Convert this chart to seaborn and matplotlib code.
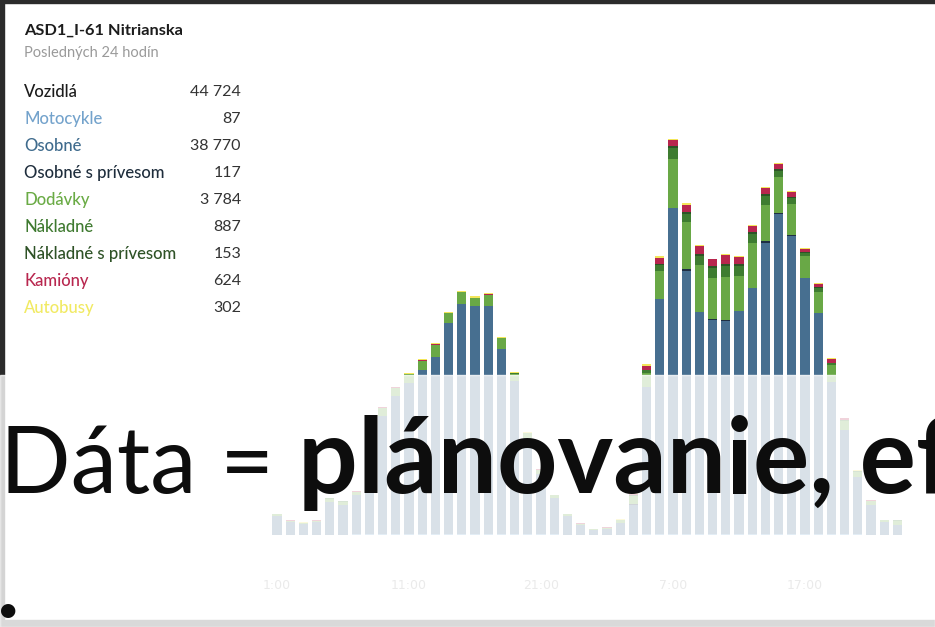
import numpy as np
import pandas as pd
import matplotlib
matplotlib.use("Agg")
import matplotlib.pyplot as plt
import seaborn as sns
from matplotlib.patches import Rectangle

# hourly counts (48 bars, two days)
hours = list(range(48))
tick_pos = [0, 10, 20, 30, 40]
tick_labels = ["1:00", "11:00", "21:00", "7:00", "17:00"]

motocykle = [0, 0, 0, 0, 0, 0, 1, 2, 3, 3, 4, 5, 5, 6, 6, 5, 5, 4, 3, 2, 1, 1, 0, 0,
             0, 0, 0, 0, 2, 3, 4, 4, 5, 5, 5, 6, 6, 6, 5, 5, 4, 3, 2, 1, 1, 0, 0, 0]
osobne = [190, 130, 110, 130, 330, 300, 390, 720, 1180, 1380,
          1515, 1645, 1772, 2112, 2297, 2285, 2285, 1855, 1528, 960,
          600, 360, 190, 100, 50, 60, 120, 300, 1470, 2355,
          3262, 2628, 2218, 2145, 2135, 2228, 2462, 2905, 3205, 2985,
          2562, 2212, 1525, 1045, 570, 300, 130, 95]
osobne_pr = [0, 0, 0, 0, 0, 0, 0, 1, 1, 1, 0, 0, 0, 0, 0, 0, 0, 0, 0, 1, 0, 0, 0, 0,
             0, 0, 0, 1, 1, 1, 1, 27, 1, 1, 1, 1, 1, 23, 1, 1, 1, 1, 1, 1, 1, 0, 0, 0]
dodavky = [15, 10, 8, 10, 30, 30, 35, 70, 80, 80,
           90, 90, 123, 100, 123, 77, 110, 103, 70, 50,
           45, 30, 15, 10, 5, 10, 25, 80, 140, 273,
           490, 463, 470, 410, 437, 350, 443, 357, 367, 317,
           223, 206, 163, 93, 55, 35, 15, 45]
nakladne = [0, 0, 0, 0, 2, 2, 3, 5, 5, 5, 0, 0, 0, 0, 0, 0, 0, 2, 15, 3, 2, 2, 1, 0,
            0, 0, 2, 8, 29, 65, 108, 85, 91, 105, 110, 105, 96, 94, 62, 60, 28, 43, 20, 8, 4, 2, 1, 1]
nakladne_pr = [0, 0, 0, 0, 0, 0, 1, 1, 1, 1, 0, 0, 0, 0, 0, 0, 0, 0, 2, 1, 0, 0, 0, 0,
               0, 0, 0, 2, 5, 12, 19, 15, 16, 18, 20, 19, 17, 16, 11, 10, 5, 7, 4, 2, 1, 0, 0, 0]
kamiony = [2, 2, 2, 2, 5, 5, 5, 5, 5, 5, 1, 1, 1, 1, 1, 1, 1, 1, 2, 3, 3, 3, 2, 2,
           1, 1, 3, 15, 43, 57, 57, 77, 83, 67, 86, 70, 60, 60, 50, 50, 34, 37, 43, 13, 8, 5, 2, 2]
autobusy = [1, 1, 1, 1, 3, 3, 3, 3, 3, 3, 7, 10, 10, 6, 10, 16, 17, 10, 3, 3, 2, 2, 1, 1,
            0, 0, 2, 10, 17, 17, 10, 17, 7, 7, 7, 7, 7, 13, 10, 7, 10, 7, 7, 3, 2, 1, 1, 1]

categories = ["Motocykle", "Osobné", "Osobné s prívesom", "Dodávky", "Nákladné",
              "Nákladné s prívesom", "Kamióny", "Autobusy"]
colors = ["#79a9d1", "#476f90", "#1f2f44", "#69a846", "#3e7c30", "#2d5426", "#b8264e", "#f3e65a"]

legend_labels = ["Vozidlá"] + categories
legend_values = ["44 724", "87", "38 770", "117", "3 784", "887", "153", "624", "302"]
legend_colors = ["#1c1c1c", "#74a3cc", "#3f6b8d", "#1e2d3c", "#6aab45", "#3f7a30", "#2e5226", "#b8274f", "#f1ea63"]

df = pd.DataFrame(dict(zip(categories, [motocykle, osobne, osobne_pr, dodavky, nakladne,
                                         nakladne_pr, kamiony, autobusy])), index=hours)
cum = df.cumsum(axis=1)

W, H = 935, 627
fig = plt.figure(figsize=(W / 100, H / 100), dpi=100)
fig.patch.set_facecolor("white")

ax = fig.add_axes([270.4 / W, 92.5 / H, 633.6 / W, 404.5 / H])
# stacked bars: draw cumulative totals from the top category down
for cat, col in reversed(list(zip(categories, colors))):
    sns.barplot(x=hours, y=cum[cat].values, color=col, saturation=1, width=0.7,
                linewidth=0, errorbar=None, ax=ax)
ax.set_xlim(-0.5, 47.5)
ax.set_ylim(0, 4045)
ax.set_xticks(tick_pos, tick_labels)
ax.set_yticks([])
ax.tick_params(axis="x", length=0, pad=32, labelsize=9, labelcolor="#999999")
ax.set_xlabel("")
ax.set_ylabel("")
for s in ax.spines.values():
    s.set_visible(False)
ax.set_facecolor("none")

# panel header and legend
fig.text(24 / W, 1 - 31 / H, "ASD1_I-61 Nitrianska", fontsize=11.8, family="Lato",
         weight="bold", color="#1c1c1c", va="center")
fig.text(24 / W, 1 - 53 / H, "Posledných 24 hodín", fontsize=10.5, family="Lato",
         color="#9a9a9a", va="center")
for k, (lab, val, col) in enumerate(zip(legend_labels, legend_values, legend_colors)):
    y = 1 - (92 + 27 * k) / H
    fig.text(24 / W, y, lab, fontsize=12, family="Lato", weight="medium", color=col, va="center")
    fig.text(241 / W, y, val, fontsize=11.5, family="Lato", color="#333333",
             va="center", ha="right")

# slide frame
fig.patches.append(Rectangle((0, 1 - 3 / H), 1, 3 / H, transform=fig.transFigure,
                             color="#2b2b2b", zorder=1))
fig.patches.append(Rectangle((0, 0), 4 / W, 1, transform=fig.transFigure,
                             color="#2b2b2b", zorder=1))
fig.patches.append(Rectangle((0, 0), 1, 7 / H, transform=fig.transFigure,
                             color="#444444", zorder=1))

# white veil over the lower part of the screenshot
fig.patches.append(Rectangle((0, 0), 1, 252 / H, transform=fig.transFigure,
                             color="white", alpha=0.8, zorder=10))

base = (H - 493) / H
fig.text(0.0, base, "Dáta =", fontsize=67, family="Lato", color="#0d0d0d",
         va="baseline", zorder=20)
fig.text(298 / W, base, "plánovanie, efektívnosť", fontsize=76, family="Lato",
         weight="bold", color="#0d0d0d", va="baseline", zorder=20)
fig.text(-3 / W, 1 - 611 / H, "•", fontsize=28, family="Lato", color="#0d0d0d",
         va="center", zorder=20)

fig.savefig("out.png", dpi=100, facecolor="white")
